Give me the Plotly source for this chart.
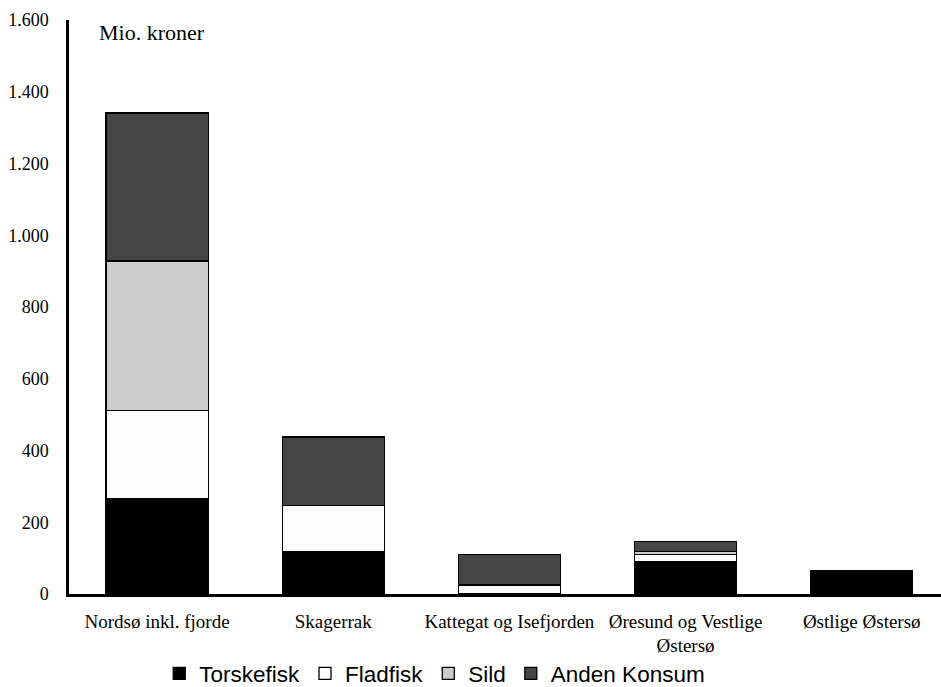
import plotly.graph_objects as go

categories = ["Nordsø inkl. fjorde", "Skagerrak", "Kattegat og Isefjorden",
              "Øresund og Vestlige<br>Østersø", "Østlige Østersø"]
torskefisk = [265, 118, 1, 89, 66]
fladfisk = [247, 129, 24, 21, 0]
sild = [416, 0, 0, 9, 0]
anden_konsum = [413, 191, 86, 27, 0]

series = [
    ("Torskefisk", torskefisk, "#000000"),
    ("Fladfisk", fladfisk, "#fcfcfc"),
    ("Sild", sild, "#cdcdcd"),
    ("Anden Konsum", anden_konsum, "#454545"),
]

fig = go.Figure()
for name, vals, col in series:
    fig.add_trace(go.Bar(
        x=categories, y=vals, name=name,
        marker=dict(color=col, line=dict(color="#000000", width=1.3)),
        width=0.58,
    ))

serif = "Liberation Serif, Times New Roman, serif"
sans = "Liberation Sans, Arial, sans-serif"

fig.update_layout(
    barmode="stack",
    width=941, height=687,
    margin=dict(l=69, r=0, t=20, b=92.5, autoexpand=False),
    paper_bgcolor="white", plot_bgcolor="white",
    separators=",.",
    showlegend=True,
    legend=dict(orientation="h", xref="container", x=0.462, xanchor="center",
                y=-0.139, yanchor="middle", tracegroupgap=0,
                font=dict(family=sans, size=22.5, color="#000000"), traceorder="normal",
                bgcolor="rgba(0,0,0,0)"),
    xaxis=dict(range=[-0.5, 4.45], showline=True, linecolor="#000000", linewidth=2.5,
               ticks="", showgrid=False, zeroline=False, automargin=False,
               tickfont=dict(family=serif, size=19, color="#000000"),
               ticklabelstandoff=8),
    yaxis=dict(range=[0, 1600], dtick=200, tickformat=",d", showline=True,
               linecolor="#000000", linewidth=2.5, ticks="", showgrid=False,
               zeroline=False, automargin=False,
               tickfont=dict(family=serif, size=18, color="#000000"),
               ticklabelstandoff=14),
    annotations=[dict(text="Mio. kroner", xref="paper", yref="paper", x=0.0318, y=0.979,
                      xanchor="left", yanchor="middle", showarrow=False,
                      font=dict(family=serif, size=22, color="#000000"))],
)

fig.write_html("out.html", config={"displayModeBar": False},
               post_script="document.body.style.margin='0';document.body.style.overflow='hidden';")
